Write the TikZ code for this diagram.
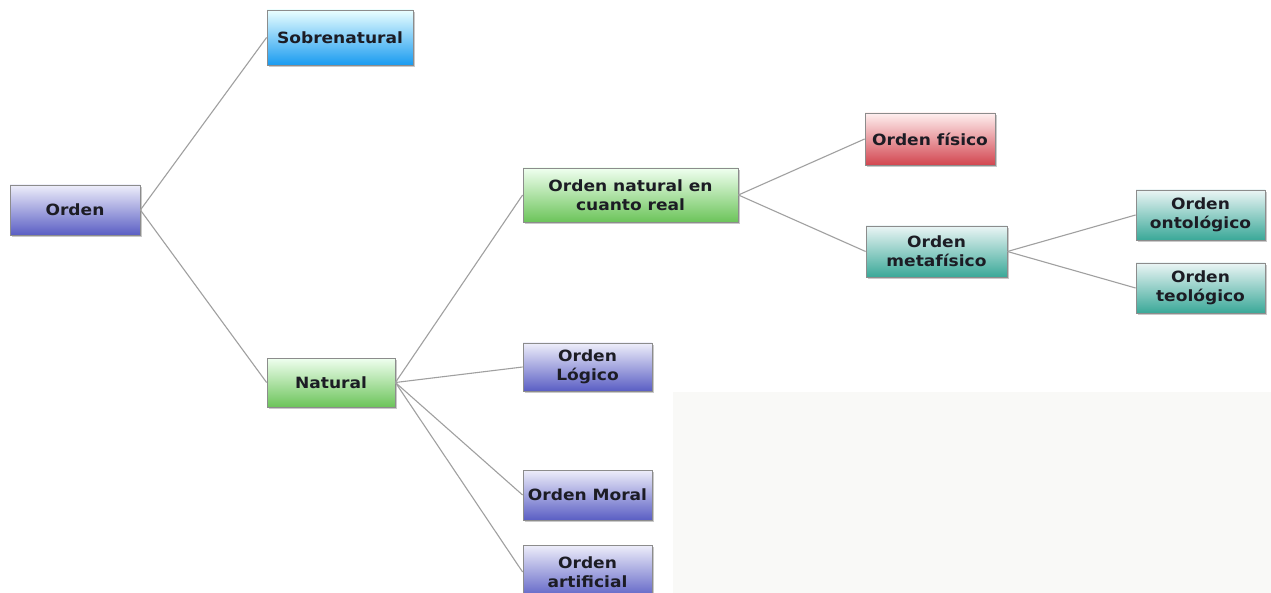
\documentclass[tikz,border=0pt]{standalone}
\usepackage{fontspec}
\setmainfont{DejaVu Sans}
\newfontfamily\boxfont[FakeStretch=1.1]{DejaVu Sans}
\usetikzlibrary{shadows}
\definecolor{txt}{HTML}{1C1C24}
\definecolor{lineg}{HTML}{A0A0A0}
\definecolor{bordg}{HTML}{8C8C8C}
\definecolor{bgpatch}{HTML}{F9F9F7}
\definecolor{pbot}{HTML}{5A5EC4}
\definecolor{ptop}{HTML}{EEEEFA}
\tikzset{
  box/.style={draw=bordg, line width=0.8pt, align=center, inner sep=0pt,
    font=\boxfont\bfseries\fontsize{15.5}{19}\selectfont, text=txt,
    drop shadow={shadow xshift=2pt, shadow yshift=-2pt, opacity=0.35, fill=black!60}},
  purplebox/.style={box, top color=ptop, bottom color=pbot},
  bluebox/.style={box, top color=cyan!8, bottom color={rgb,255:red,25;green,155;blue,240}},
  greenbox/.style={box, top color=green!6, bottom color={rgb,255:red,108;green,196;blue,90}},
  redbox/.style={box, top color=red!6, bottom color={rgb,255:red,210;green,70;blue,80}},
  tealbox/.style={box, top color=teal!8, bottom color={rgb,255:red,58;green,168;blue,152}},
  conn/.style={draw=lineg, line width=1.1pt}
}
\begin{document}
\begin{tikzpicture}[x=1pt,y=-1pt]
\useasboundingbox (0,0) rectangle (1271,593);
\fill[white] (0,0) rectangle (1271,593);
\fill[bgpatch] (673,392) rectangle (1271,593);

\node[purplebox, minimum width=130, minimum height=50] (orden) at (75,210) {Orden};
\node[bluebox, minimum width=146, minimum height=55] (sobre) at (340,37.5) {Sobrenatural};
\node[greenbox, minimum width=128, minimum height=49] (natural) at (331,382.5) {Natural};
\node[greenbox, minimum width=215, minimum height=54] (real) at (630.5,195) {Orden natural en\\cuanto real};
\node[redbox, minimum width=130, minimum height=52] (fisico) at (930,139) {Orden físico};
\node[tealbox, minimum width=141, minimum height=51] (meta) at (936.5,251.5) {Orden\\metafísico};
\node[tealbox, minimum width=129, minimum height=50] (onto) at (1200.5,215) {Orden\\ontológico};
\node[tealbox, minimum width=129, minimum height=50] (teo) at (1200.5,288) {Orden\\teológico};
\node[purplebox, minimum width=129, minimum height=48] (logico) at (587.5,367) {Orden\\Lógico};
\node[purplebox, minimum width=129, minimum height=50] (moral) at (587.5,495) {Orden Moral};
\node[purplebox, minimum width=129, minimum height=54] (artif) at (587.5,572) {Orden\\artificial};

\draw[conn] (orden.east) -- (sobre.west);
\draw[conn] (orden.east) -- (natural.west);
\draw[conn] (natural.east) -- (real.west);
\draw[conn] (natural.east) -- (logico.west);
\draw[conn] (natural.east) -- (moral.west);
\draw[conn] (natural.east) -- (artif.west);
\draw[conn] (real.east) -- (fisico.west);
\draw[conn] (real.east) -- (meta.west);
\draw[conn] (meta.east) -- (onto.west);
\draw[conn] (meta.east) -- (teo.west);
\end{tikzpicture}
\end{document}
